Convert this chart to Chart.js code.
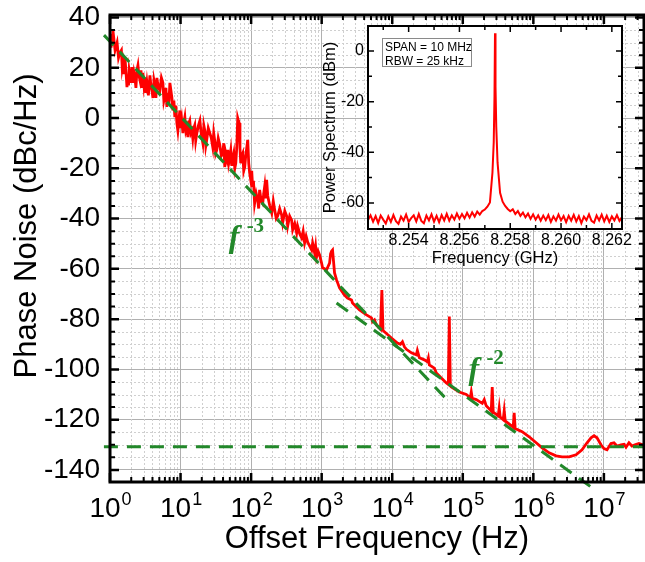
<!DOCTYPE html>
<html>
<head>
<meta charset="utf-8">
<script src="https://cdn.jsdelivr.net/npm/chart.js@4.4.0/dist/chart.umd.min.js"></script>
<style>
  html, body { margin: 0; padding: 0; background: #fff; }
  #wrap { position: relative; width: 645px; height: 562px; overflow: hidden; }
  #mainChart { position: absolute; left: 0; top: 0; }
  #insetChart { position: absolute; left: 310px; top: 0; }
</style>
</head>
<body>
<div id="wrap">
  <canvas id="mainChart" width="645" height="562"></canvas>
  <canvas id="insetChart" width="335" height="280"></canvas>
</div>
<script>
// ---- main plot: phase noise vs offset frequency ----
const offsetHz = [
  1, 1.035, 1.07, 1.10, 1.18, 1.26, 1.32, 1.38, 1.45, 1.49, 1.53, 1.58, 1.63, 1.68, 1.74, 1.78,
  1.83, 1.87, 1.92, 1.98, 2.05, 2.12, 2.19, 2.26, 2.33, 2.41, 2.49, 2.57, 2.66, 2.75, 2.84, 2.93,
  3.03, 3.13, 3.23, 3.34, 3.50, 3.68, 3.80, 3.93, 4.06, 4.20, 4.33, 4.47, 4.62, 4.85, 5.09, 5.35,
  5.62, 5.80, 6.00, 6.20, 6.40, 6.61, 6.83, 7.06, 7.30, 7.54, 7.78, 8.04, 8.30, 8.58, 8.87, 9.16,
  9.46, 9.77, 10.1, 10.4, 10.8, 11.1, 11.5, 11.9, 12.3, 12.7, 13.1, 13.5, 14.0, 14.5, 14.9, 15.4,
  15.9, 16.4, 17.0, 17.9, 18.8, 19.4, 20.0, 20.7, 21.4, 22.1, 22.8, 23.5, 24.7, 26.0, 27.3, 28.6,
  29.5, 30.5, 31.5, 32.6, 34.2, 36.0, 37.8, 39.6, 41.0, 42.3, 43.7, 45.2, 46.7, 48.2, 49.8, 51.5,
  53.2, 55.0, 56.8, 58.7, 60.6, 62.5, 64.6, 66.0, 67.9, 69.5, 71.3, 73.7, 76.1, 78.6, 81.2, 83.9,
  86.6, 89.5, 92.5, 95.5, 98.7, 102, 105, 108, 112, 118, 124, 128, 132, 139, 146, 151,
  156, 161, 166, 172, 184, 196, 206, 216, 227, 238, 254, 271, 280, 300, 319, 330,
  352, 375, 388, 415, 442, 456, 488, 520, 546, 573, 602, 632, 676, 720, 744, 794,
  820, 847, 890, 934, 997, 1030, 1173, 1294, 1337, 1380, 1426, 1522, 1625, 1791, 2107, 2324,
  2648, 2735, 3436, 4315, 5079, 5246, 5600, 5975, 6808, 7130, 7400, 7760, 9740, 11850, 13070, 13950,
  14890, 15880, 18700, 21990, 22710, 24260, 28530, 31480, 32520, 33580, 39540, 42190, 49660, 58450, 62350, 64440,
  66540, 68730, 89180, 112200, 127700, 131900, 136200, 155200, 188800, 201400, 214900, 252900, 261300, 269900, 317600, 328100,
  338900, 374000, 386400, 399100, 517800, 534800, 552500, 693500, 872300, 1.097e6, 1.332e6, 1.673e6, 2.101e6, 2.553e6, 3.207e6, 4.028e6,
  4.895e6, 5.763e6, 6.564e6, 7.244e6, 7.982e6, 9.09e6, 1.003e7, 1.107e7, 1.26e7, 1.39e7, 1.53e7, 1.746e7, 1.925e7, 2.056e7, 2.265e7, 2.497e7,
  2.754e7, 3.135e7, 3.69e7
];
const phaseNoise = [
  31.8, 28, 33, 35, 27, 30, 24, 26, 27, 20, 22, 18, 24, 19, 12.3, 16,
  13, 19, 17, 14, 20.3, 14, 18, 16, 12, 19, 21, 17, 15, 19, 12, 18,
  13, 16, 10, 14, 9, 17, 13, 11, 8, 15, 13, 8, 16, 12, 11, 16,
  14, 7, 9, 12, 4.4, 10, 6, 14, 11, 8, 3, 7, 0.4, 5, -2, -5,
  -1, 3, -4, -1, -6, -2, 0.4, -5, -3.6, -7.6, -2, -1, -6, -5, -8, -4,
  -2.8, -9, -6, -3, -1, -5, -7.6, -10, -3, -5, -11, -8.7, -4, -6, -8, -11.5,
  -6, -9, -14, -12.7, -8, -10.7, -15, -14, -10, -19.5, -14, -16, -12.7, -18, -16, -13,
  -19, -16, -14, -20, -18, -12, 0, -1, -2, -12, -18, -15, -14, -21, -19.5, -15,
  -12, -8.7, -18, -22, -24.6, -21, -27.4, -25, -34, -30, -32.6, -36, -28.6, -33, -34, -30,
  -27, -32, -24.6, -31, -35, -37.8, -33, -36.6, -40, -39, -36, -38.6, -41.7, -37, -39, -43,
  -39, -40.6, -44.5, -42, -45.7, -43, -46, -47.7, -45, -49.7, -47, -49.3, -51, -52.5, -49.7, -53.7,
  -51, -55.3, -53, -54.5, -57.7, -59.6, -60.4, -57.7, -54, -53, -52.5, -61.6, -64.4, -67.6, -70.4, -71.6,
  -72.4, -73.6, -76.3, -78.3, -79.5, -81, -80.3, -82.3, -84, -68.4, -84.5, -85, -87.5, -89.5, -90, -89,
  -91, -92, -93.4, -94.2, -92.5, -95.4, -96.2, -97, -95.5, -98.2, -99.5, -101.4, -103.4, -105.4, -106, -79,
  -106.5, -107, -109, -110, -111.3, -109, -111.5, -112, -113.5, -112, -114.5, -116.5, -107, -117, -118.5, -115.3,
  -119, -120, -116.5, -120.5, -123, -117.3, -123.5, -124.8, -126.8, -129.2, -131.2, -133.2, -134.4, -134.8, -134.8, -134,
  -132, -129.2, -127.2, -126.4, -127.2, -130, -131.5, -132, -129.5, -129.2, -130.5, -130, -129.8, -131, -129.2, -130.5,
  -130, -129.5, -130.2
];

// dashed guide lines (f^-3, f^-2, noise floor)
const slope3Hz = [0.822, 58450];
const slope3Db = [33.0, -111.8];
const slope2Hz = [1625, 6.58e6];
const slope2Db = [-73.6, -146.8];
const floorHz = [0.82, 3.7e7];
const floorDb = [-130.8, -130.8];

const xDecades = [1, 10, 100, 1e3, 1e4, 1e5, 1e6, 1e7];
const yTickValues = [-140, -120, -100, -80, -60, -40, -20, 0, 20, 40];

// ---- inset: power spectrum ----
const insetFreqGHz = [
  8.2524, 8.2525, 8.2526, 8.2527, 8.2528, 8.2529, 8.2530, 8.2531, 8.2532, 8.2533,
  8.2534, 8.2535, 8.2536, 8.2537, 8.2538, 8.2539, 8.2540, 8.2541, 8.2542, 8.2543,
  8.2544, 8.2545, 8.2546, 8.2547, 8.2548, 8.2549, 8.2550, 8.2551, 8.2552, 8.2553,
  8.2554, 8.2555, 8.2556, 8.2557, 8.2558, 8.2559, 8.2560, 8.2561, 8.2562, 8.2563,
  8.2564, 8.2565, 8.2566, 8.2567, 8.2568, 8.2569, 8.2570, 8.2571, 8.2572, 8.2573,
  8.25735, 8.25738, 8.2574, 8.25742, 8.25745,
  8.2575, 8.2576, 8.2577, 8.2578, 8.2579, 8.2580, 8.2581, 8.2582, 8.2583, 8.2584,
  8.2585, 8.2586, 8.2587, 8.2588, 8.2589, 8.2590, 8.2591, 8.2592, 8.2593, 8.2594,
  8.2595, 8.2596, 8.2597, 8.2598, 8.2599, 8.2600, 8.2601, 8.2602, 8.2603, 8.2604,
  8.2605, 8.2606, 8.2607, 8.2608, 8.2609, 8.2610, 8.2611, 8.2612, 8.2613, 8.2614,
  8.2615, 8.2616, 8.2617, 8.2618, 8.2619, 8.2620, 8.2621, 8.2622, 8.2623, 8.2624
];
const insetPowerDbm = [
  -66.8, -64.9, -67.4, -65.2, -67.9, -65.0, -66.6, -68.1, -65.3, -67.5,
  -64.8, -67.2, -68.3, -65.4, -67.0, -64.6, -67.5, -66.0, -64.9, -67.3,
  -64.4, -67.1, -68.0, -65.0, -66.9, -64.5, -67.4, -65.1, -67.6, -64.8,
  -66.9, -64.3, -67.0, -64.9, -66.6, -64.2, -66.3, -64.4, -66.1, -63.9,
  -65.8, -63.7, -65.4, -63.4, -64.6, -63.2, -62.6, -61.5, -59.8, -48,
  -36, -18, 7, -14, -30,
  -44, -56, -59.5, -61.2, -62.4, -63.3, -62.5, -64.4, -63.2, -65.1,
  -63.8, -65.7, -64.2, -66.3, -64.5, -66.6, -64.9, -67.0, -65.0, -66.8,
  -64.8, -67.5, -65.3, -67.0, -64.6, -66.9, -65.2, -67.6, -65.1, -67.0,
  -64.7, -67.3, -65.2, -68.0, -65.4, -66.8, -64.5, -67.1, -67.8, -65.0,
  -66.9, -64.6, -67.3, -65.1, -67.5, -65.3, -66.9, -64.8, -67.1, -65.6
];
const insetXTicks = [8.254, 8.256, 8.258, 8.260, 8.262];
const insetXMinor = [8.253, 8.255, 8.257, 8.259, 8.261];
const insetYTicks = [0, -20, -40, -60];
const insetYMinor = [-10, -30, -50];
const insetNotes = ['SPAN = 10 MHz', 'RBW = 25 kHz'];

const FONT = '"Liberation Sans", Arial, Helvetica, sans-serif';
const SERIF = '"Liberation Serif", "Times New Roman", serif';
const RED = '#ff0000';
const GREEN = '#22882a';

function pairs(xs, ys) {
  return xs.map((v, i) => ({ x: v, y: ys[i] }));
}

// minor positions for the frame ticks / dotted grid
const xMain = { min: 1, max: 3.7e7 };
const yMain = { min: -144.8, max: 41 };
const xMinor = [];
xDecades.forEach(d => {
  for (let m = 2; m <= 9; m++) {
    if (d * m <= xMain.max) xMinor.push(d * m);
  }
});
const yMinor = [];
for (let v = -140; v <= 40; v += 5) {
  if (v % 20 !== 0) yMinor.push(v);
}

function tickLines(ctx, a, xs, ys, xScale, yScale, len) {
  ctx.beginPath();
  xs.forEach(v => {
    const px = xScale.getPixelForValue(v);
    ctx.moveTo(px, a.bottom); ctx.lineTo(px, a.bottom - len);
    ctx.moveTo(px, a.top); ctx.lineTo(px, a.top + len);
  });
  ys.forEach(v => {
    const py = yScale.getPixelForValue(v);
    ctx.moveTo(a.left, py); ctx.lineTo(a.left + len, py);
    ctx.moveTo(a.right, py); ctx.lineTo(a.right - len, py);
  });
  ctx.stroke();
}

const mainDecor = {
  id: 'mainDecor',
  beforeDatasetsDraw(chart) {
    const { ctx, chartArea: a, scales: { x, y } } = chart;
    ctx.save();
    ctx.strokeStyle = '#cfcfcf';
    ctx.lineWidth = 1;
    ctx.setLineDash([2, 2]);
    ctx.beginPath();
    xMinor.forEach(v => {
      const px = Math.round(x.getPixelForValue(v)) + 0.5;
      ctx.moveTo(px, a.top); ctx.lineTo(px, a.bottom);
    });
    yMinor.forEach(v => {
      const py = Math.round(y.getPixelForValue(v)) + 0.5;
      ctx.moveTo(a.left, py); ctx.lineTo(a.right, py);
    });
    ctx.stroke();
    ctx.restore();
  },
  afterDatasetsDraw(chart) {
    const { ctx, chartArea: a, scales: { x, y } } = chart;
    ctx.save();
    ctx.strokeStyle = '#000';
    ctx.lineWidth = 2.5;
    tickLines(ctx, a, xDecades, yTickValues, x, y, 9);
    ctx.lineWidth = 2;
    tickLines(ctx, a, xMinor, yMinor, x, y, 5);
    ctx.lineWidth = 3;
    ctx.strokeRect(a.left, a.top, a.right - a.left, a.bottom - a.top);

    // tick labels 10^n
    ctx.fillStyle = '#000';
    ctx.textAlign = 'left';
    ctx.textBaseline = 'alphabetic';
    xDecades.forEach(v => {
      const px = x.getPixelForValue(v);
      const exp = String(Math.round(Math.log10(v)));
      ctx.font = '28px ' + FONT;
      const w1 = ctx.measureText('10').width;
      ctx.font = '18px ' + FONT;
      const w2 = ctx.measureText(exp).width;
      const start = px - (w1 + w2) / 2;
      ctx.font = '28px ' + FONT;
      ctx.fillText('10', start, 517);
      ctx.font = '18px ' + FONT;
      ctx.fillText(exp, start + w1 + 1, 505);
    });

    // y axis title
    ctx.save();
    ctx.translate(36, 226);
    ctx.rotate(-Math.PI / 2);
    ctx.textAlign = 'center';
    ctx.font = '31px ' + FONT;
    ctx.fillText('Phase Noise (dBc/Hz)', 0, 0);
    ctx.restore();

    // slope annotations
    ctx.fillStyle = GREEN;
    [[48, -51.5, '-3'], [1.2e5, -104, '-2']].forEach(([hz, db, p]) => {
      const px = x.getPixelForValue(hz);
      const py = y.getPixelForValue(db);
      ctx.font = 'italic bold 32px ' + SERIF;
      ctx.fillText('f', px, py);
      ctx.font = 'bold 21px ' + SERIF;
      ctx.fillText(p, px + 18, py - 15);
    });
    ctx.restore();
  }
};

new Chart(document.getElementById('mainChart'), {
  type: 'line',
  data: {
    datasets: [
      {
        data: pairs(offsetHz, phaseNoise),
        borderColor: RED, borderWidth: 2.8, pointRadius: 0, tension: 0, order: 2
      },
      {
        data: pairs(slope3Hz, slope3Db),
        borderColor: GREEN, borderWidth: 3, borderDash: [14, 9], pointRadius: 0, clip: false, order: 1
      },
      {
        data: pairs(slope2Hz, slope2Db),
        borderColor: GREEN, borderWidth: 3, borderDash: [14, 9], pointRadius: 0, clip: false, order: 1
      },
      {
        data: pairs(floorHz, floorDb),
        borderColor: GREEN, borderWidth: 3, borderDash: [14, 9], pointRadius: 0, clip: false, order: 1
      }
    ]
  },
  options: {
    responsive: false,
    animation: false,
    devicePixelRatio: 1,
    layout: { padding: { top: 15, right: 1, left: 0, bottom: 0 } },
    plugins: { legend: { display: false }, tooltip: { enabled: false } },
    scales: {
      x: {
        type: 'logarithmic',
        min: xMain.min, max: xMain.max,
        afterBuildTicks: s => { s.ticks = xDecades.map(v => ({ value: v })); },
        afterFit: s => { s.height = 80; s.paddingLeft = 0; s.paddingRight = 0; },
        ticks: { display: false },
        grid: { color: '#b0b0b0', lineWidth: 1, drawTicks: false },
        border: { display: false },
        title: {
          display: true, text: 'Offset Frequency (Hz)', color: '#000',
          font: { family: FONT, size: 31 }, padding: { top: 0, bottom: 4 }
        }
      },
      y: {
        min: yMain.min, max: yMain.max,
        afterBuildTicks: s => { s.ticks = yTickValues.map(v => ({ value: v })); },
        afterFit: s => { s.width = 110; s.paddingTop = 0; s.paddingBottom = 0; },
        ticks: { color: '#000', font: { family: FONT, size: 28 }, padding: 10, callback: v => String(v) },
        grid: { color: '#b0b0b0', lineWidth: 1, drawTicks: false },
        border: { display: false }
      }
    }
  },
  plugins: [mainDecor]
});

// ---- inset chart ----
const insetDecor = {
  id: 'insetDecor',
  beforeDraw(chart) {
    const { ctx, chartArea: a } = chart;
    ctx.save();
    ctx.fillStyle = '#fff';
    ctx.fillRect(a.left, a.top, a.right - a.left, a.bottom - a.top);
    ctx.restore();
  },
  afterDatasetsDraw(chart) {
    const { ctx, chartArea: a, scales: { x, y } } = chart;
    ctx.save();
    ctx.strokeStyle = '#000';
    ctx.lineWidth = 1.5;
    tickLines(ctx, a, insetXTicks, insetYTicks, x, y, 6);
    tickLines(ctx, a, insetXMinor, insetYMinor, x, y, 4);
    ctx.lineWidth = 2;
    ctx.strokeRect(a.left, a.top, a.right - a.left, a.bottom - a.top);

    // note box
    ctx.fillStyle = '#fff';
    ctx.fillRect(72, 38, 90, 29);
    ctx.strokeStyle = '#8a8a8a';
    ctx.lineWidth = 1;
    ctx.strokeRect(72.5, 38.5, 89, 28);
    ctx.fillStyle = '#000';
    ctx.font = '12px ' + FONT;
    ctx.textBaseline = 'alphabetic';
    ctx.fillText(insetNotes[0], 75, 50.5);
    ctx.fillText(insetNotes[1], 75, 65);
    ctx.restore();
  }
};

new Chart(document.getElementById('insetChart'), {
  type: 'line',
  data: {
    datasets: [{
      data: pairs(insetFreqGHz, insetPowerDbm),
      borderColor: RED, borderWidth: 2, pointRadius: 0, tension: 0
    }]
  },
  options: {
    responsive: false,
    animation: false,
    devicePixelRatio: 1,
    layout: { padding: { top: 26, right: 23, left: 0, bottom: 0 } },
    plugins: { legend: { display: false }, tooltip: { enabled: false } },
    scales: {
      x: {
        type: 'linear',
        min: 8.2524, max: 8.2624,
        afterBuildTicks: s => { s.ticks = insetXTicks.map(v => ({ value: v })); },
        afterFit: s => { s.height = 51; s.paddingLeft = 0; s.paddingRight = 0; },
        ticks: { color: '#000', font: { family: FONT, size: 16 }, padding: 2, maxRotation: 0, callback: v => v.toFixed(3) },
        grid: { display: false, drawTicks: false },
        border: { display: false },
        title: {
          display: true, text: 'Frequency (GHz)', color: '#000',
          font: { family: FONT, size: 16.5 }, padding: { top: 0, bottom: 12 }
        }
      },
      y: {
        min: -70.3, max: 9.9,
        afterBuildTicks: s => { s.ticks = insetYTicks.map(v => ({ value: v })); },
        afterFit: s => { s.width = 58; s.paddingTop = 0; s.paddingBottom = 0; },
        ticks: { color: '#000', font: { family: FONT, size: 16 }, padding: 4, callback: v => String(v) },
        grid: { display: false, drawTicks: false },
        border: { display: false },
        title: {
          display: true, text: 'Power Spectrum (dBm)', color: '#000',
          font: { family: FONT, size: 16.5 }, padding: { top: 11, bottom: 0 }
        }
      }
    }
  },
  plugins: [insetDecor]
});
</script>
</body>
</html>
